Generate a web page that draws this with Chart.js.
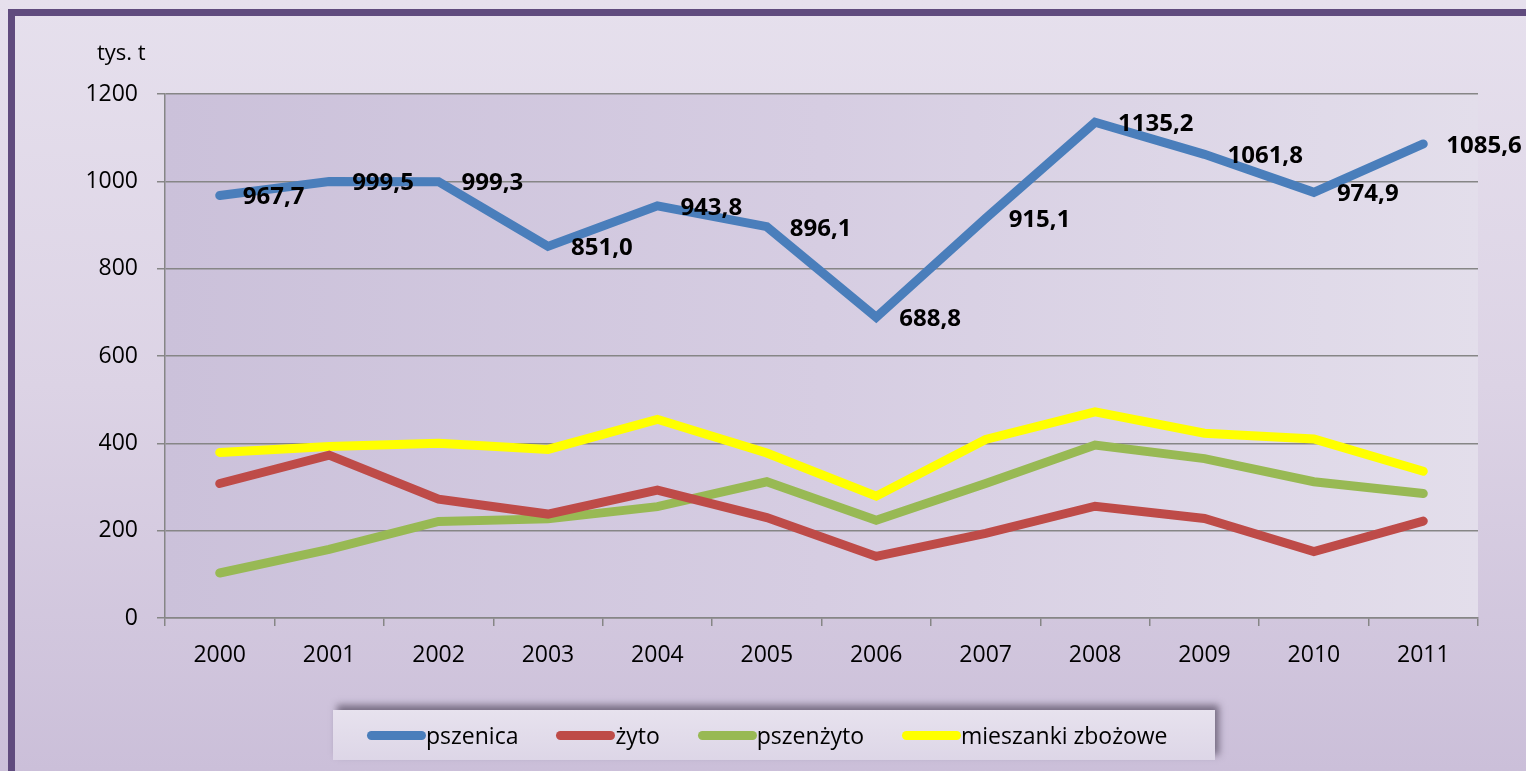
<!DOCTYPE html>
<html>
<head>
<meta charset="utf-8">
<script src="https://cdn.jsdelivr.net/npm/chart.js@4"></script>
<style>
  html, body { margin: 0; padding: 0; }
  #wrap {
    position: relative; width: 1526px; height: 771px; overflow: hidden;
    background: linear-gradient(to bottom, #e6e0ed 0%, #dcd3e5 50%, #cbbfd9 100%);
    font-family: "Open Sans", sans-serif;
  }
  #frame {
    position: absolute; left: 8px; top: 9px; width: 1600px; height: 900px;
    border-left: 7px solid #604b7e; border-top: 7px solid #604b7e;
  }
  #chart { position: absolute; left: 0; top: 0; }
  #unit { position: absolute; left: 97px; top: 36px; font-size: 22px; line-height: 30px; color: #000; }
  #legend {
    position: absolute; left: 333px; top: 710px; width: 882px; height: 50px;
    background: linear-gradient(to bottom, #e7e2ee, #ddd6e7);
    box-shadow: 4px -5px 7px rgba(50, 40, 60, 0.55);
    display: flex; align-items: center; box-sizing: border-box; padding-left: 34px;
  }
  .item { display: flex; align-items: center; margin-right: 38px; font-size: 23px; color: #000; }
  .swatch { width: 59px; height: 9px; border-radius: 5px; }
</style>
</head>
<body>
<div id="wrap">
  <div id="frame"></div>
  <canvas id="chart" width="1526" height="771"></canvas>
  <div id="unit">tys. t</div>
  <div id="legend"></div>
</div>
<script>
const years = ['2000', '2001', '2002', '2003', '2004', '2005', '2006', '2007', '2008', '2009', '2010', '2011'];
const pszenica = [967.7, 999.5, 999.3, 851.0, 943.8, 896.1, 688.8, 915.1, 1135.2, 1061.8, 974.9, 1085.6];
const zyto = [308, 373, 272, 238, 293, 230, 141, 194, 256, 228, 152, 222];
const pszenzyto = [103, 157, 221, 227, 255, 312, 224, 308, 396, 365, 312, 285];
const mieszanki = [379, 393, 400, 386, 455, 378, 279, 409, 472, 423, 410, 336];
const seriesNames = ['pszenica', 'żyto', 'pszenżyto', 'mieszanki zbożowe'];
const seriesColors = ['#4a7ebb', '#be4b48', '#98b954', '#ffff00'];

const ctx = document.getElementById('chart').getContext('2d');

const plotBackground = {
    id: 'plotBackground',
    beforeDraw(chart) {
        const { ctx, chartArea: a } = chart;
        const g = ctx.createLinearGradient(a.left, 0, a.right, 0);
        g.addColorStop(0, '#cbc1da');
        g.addColorStop(0.5, '#d6cde2');
        g.addColorStop(1, '#e3deeb');
        ctx.save();
        ctx.fillStyle = g;
        ctx.fillRect(a.left, a.top, a.right - a.left, a.bottom - a.top);
        ctx.restore();
    }
};

// value labels for the first series, right of each point
const valueLabels = {
    id: 'valueLabels',
    afterDatasetsDraw(chart) {
        const { ctx } = chart;
        const meta = chart.getDatasetMeta(0);
        const data = chart.data.datasets[0].data;
        ctx.save();
        ctx.font = 'bold 24px "Open Sans", sans-serif';
        ctx.fillStyle = '#000';
        ctx.textAlign = 'left';
        ctx.textBaseline = 'middle';
        meta.data.forEach((pt, i) => {
            ctx.fillText(data[i].toFixed(1).replace('.', ','), pt.x + 23, pt.y + 2);
        });
        ctx.restore();
    }
};

const chart = new Chart(ctx, {
    type: 'line',
    data: {
        labels: years,
        datasets: [pszenica, zyto, pszenzyto, mieszanki].map((d, i) => ({
            label: seriesNames[i],
            data: d,
            borderColor: seriesColors[i],
            backgroundColor: seriesColors[i],
            borderWidth: 9,
            borderCapStyle: 'round',
            pointRadius: 0,
            tension: 0
        }))
    },
    options: {
        responsive: false,
        animation: false,
        layout: { padding: { top: 94, right: 48, left: 0, bottom: 0 } },
        plugins: {
            legend: { display: false },
            tooltip: { enabled: false }
        },
        scales: {
            x: {
                offset: true,
                grid: {
                    offset: true,
                    drawOnChartArea: false,
                    drawTicks: true,
                    tickLength: 8,
                    color: '#868686',
                    lineWidth: 1.5
                },
                border: { color: '#868686', width: 1.5 },
                ticks: { color: '#000', font: { family: 'Open Sans', size: 23 }, padding: 16, maxRotation: 0 },
                afterFit: (s) => { s.height = 153; }
            },
            y: {
                min: 0,
                max: 1200,
                grid: { color: '#868686', lineWidth: 1.5, tickLength: 8 },
                border: { color: '#868686', width: 1.5 },
                ticks: {
                    stepSize: 200, color: '#000', font: { family: 'Open Sans', size: 23 }, padding: 19,
                    callback: (v) => String(v)
                },
                afterFit: (s) => { s.width = 165; }
            }
        }
    },
    plugins: [plotBackground, valueLabels]
});

const legend = document.getElementById('legend');
chart.data.datasets.forEach((ds) => {
    const item = document.createElement('div');
    item.className = 'item';
    const sw = document.createElement('span');
    sw.className = 'swatch';
    sw.style.background = ds.borderColor;
    const txt = document.createElement('span');
    txt.textContent = ds.label;
    item.appendChild(sw);
    item.appendChild(txt);
    legend.appendChild(item);
});
</script>
</body>
</html>
